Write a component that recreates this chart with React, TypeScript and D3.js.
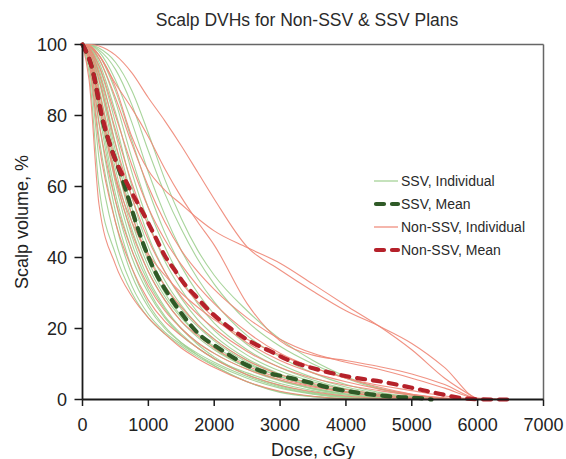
import React from "react";
import * as d3 from "d3";

// ---------- data ----------
const TITLE = "Scalp DVHs for Non-SSV & SSV Plans";
const X_LABEL = "Dose, cGy";
const Y_LABEL = "Scalp volume, %";
const X_TICKS = [0, 1000, 2000, 3000, 4000, 5000, 6000, 7000];
const Y_TICKS = [0, 20, 40, 60, 80, 100];

// common dose grid (cGy) for individual curves
const DOSE_GRID = [0, 100, 250, 500, 750, 1000, 1250, 1500, 1750, 2000, 2500, 3000, 3500, 4000, 4500, 5000, 5500, 6000, 6500];

// SSV individual curves (volume %, on DOSE_GRID)
const SSV_INDIVIDUAL = [
  [100, 92, 60, 41, 30, 23, 18.5, 15, 12, 9.5, 5, 2, 0.8, 0.2, 0],
  [100, 94, 68, 45, 32, 24, 19, 15.5, 12.5, 10, 6, 3.2, 1.5, 0.5, 0],
  [100, 96, 74, 50, 35, 26, 20, 16, 13, 10.5, 6.5, 3.5, 1.6, 0.6, 0],
  [100, 97, 78, 53, 37, 27, 20.5, 16, 12.5, 9.5, 5, 2.2, 0.8, 0.2, 0],
  [100, 97.5, 81, 56, 40, 30, 23, 18, 14.5, 11.5, 7, 4, 2, 0.8, 0.2, 0],
  [100, 98, 83, 58, 42, 31, 23.5, 18.5, 14.5, 11.5, 7.5, 4.5, 2.5, 1.2, 0.4, 0],
  [100, 98.5, 85, 61, 44, 33, 25.5, 20, 16, 13, 8.5, 5.2, 3, 1.5, 0.5, 0],
  [100, 99, 87, 63, 46, 34, 26, 20, 15.5, 12, 7, 3.8, 1.8, 0.7, 0.2, 0],
  [100, 99, 88, 65, 48, 36, 28, 22, 17.5, 14, 9, 5.5, 3.2, 1.6, 0.6, 0],
  [100, 99.3, 90, 68, 50, 37.5, 29, 23, 18.5, 15, 10, 6.5, 4, 2.2, 1, 0.3, 0],
  [100, 99.5, 91, 70, 52, 39, 30, 23.5, 18.5, 14.5, 9, 5.5, 3, 1.5, 0.5, 0],
  [100, 99.5, 92, 72, 54, 41, 32, 25.5, 20.5, 16.5, 10.5, 6.5, 3.8, 2, 0.8, 0.2, 0],
  [100, 99.6, 93, 75, 57, 43, 33.5, 26.5, 21, 17, 11, 7, 4.2, 2.3, 1, 0.3, 0],
  [100, 99.7, 94, 78, 60, 46, 36, 28.5, 22.5, 18, 11.5, 7.2, 4.2, 2.2, 0.9, 0.3, 0],
  [100, 99.8, 95, 81, 64, 50, 39, 31, 24.5, 19.5, 12.5, 8, 5, 2.8, 1.3, 0.4, 0],
  [100, 99.8, 96, 84, 68, 54, 43, 34, 27, 21.5, 14, 9, 5.5, 3, 1.4, 0.5, 0],
  [100, 99.9, 97, 87, 73, 59, 47, 37.5, 30, 24, 15.5, 10, 6.2, 3.5, 1.7, 0.6, 0],
  [100, 100, 98, 90, 78, 64, 52, 42, 34, 27.5, 18, 12, 7.5, 4.2, 2, 0.8, 0.2, 0],
  [100, 100, 98.5, 93, 83, 70, 58, 48, 39.5, 32.5, 22, 15, 10, 6, 3, 1.2, 0.3, 0],
  [100, 100, 99, 95, 87, 75, 62, 51, 42, 35, 25, 17, 11, 6.5, 3.2, 1.3, 0.3, 0],
];

// Non-SSV individual curves (volume %, on DOSE_GRID)
const NONSSV_INDIVIDUAL = [
  [100, 100, 99.6, 97, 92, 85, 78.5, 71.5, 64, 56.5, 43, 36.5, 30.5, 25, 20.7, 15.8, 9, 0.4, 0],
  [100, 99.8, 97, 88, 74, 64.5, 59, 55, 51, 47.5, 42.8, 38.4, 32.5, 26.5, 20.7, 14, 6, 0],
  [100, 99.5, 97, 89, 82, 74, 65, 57, 50, 43.5, 27, 16.5, 12.5, 11, 9.3, 7.2, 4.2, 0.3, 0],
  [100, 99.5, 96, 85, 72, 60, 50, 42, 36, 31, 23, 17, 13, 10.5, 8.5, 6, 3.2, 0.3, 0],
  [100, 99, 94, 80, 66, 54, 45, 38, 32, 27, 19, 13, 9, 6, 4, 2.5, 1, 0],
  [100, 99, 92, 76, 61, 49, 40, 33, 27.5, 23, 16, 11, 7.5, 5, 3, 1.5, 0.5, 0],
  [100, 98.5, 90, 72, 57, 45, 36, 29, 24, 20, 13.5, 9, 6, 4, 2.5, 1.2, 0.3, 0],
  [100, 98, 87, 67, 52, 40, 32, 26, 21, 17, 11, 7, 4.5, 2.8, 1.5, 0.6, 0],
  [100, 97, 83, 62, 47, 36, 28, 22, 18, 14.5, 9.5, 6, 3.8, 2.2, 1, 0.3, 0],
  [100, 96, 78, 56, 42, 32, 25, 20, 16, 13, 8.5, 5.5, 3.5, 2, 1, 0.3, 0],
  [100, 95, 72, 50, 37, 28, 22, 18, 14.5, 11.5, 7, 4, 2.2, 1, 0.3, 0],
  [100, 90, 55, 38, 29, 23, 18.5, 14.5, 11.5, 9, 5, 2.3, 0.9, 0.2, 0],
  [100, 97, 85, 63, 50, 41, 35, 30, 26, 22.5, 17, 12.5, 9, 6, 3.5, 1.5, 0.3, 0],
];

// mean curves
const SSV_MEAN_DOSE = [0, 150, 300, 450, 550, 700, 800, 900, 1000, 1130, 1270, 1430, 1580, 1780, 1990, 2190, 2440, 2750, 3050, 3400, 3800, 4260, 4720, 5170, 5300];
const SSV_MEAN_VOL = [100, 93, 79, 70, 65, 56.5, 50.5, 45, 40.2, 35, 30.6, 26.1, 22.4, 18.2, 15.4, 13, 10.2, 7.8, 6.5, 5.0, 3.1, 1.7, 0.8, 0.3, 0];
const NONSSV_MEAN_DOSE = [0, 150, 300, 450, 700, 950, 1100, 1250, 1400, 1550, 1700, 1900, 2250, 2600, 2850, 3100, 3600, 4050, 4550, 5000, 5400, 5800, 6200, 6450];
const NONSSV_MEAN_VOL = [100, 93, 79.5, 70, 60, 51.5, 46, 40.5, 36.5, 32.5, 29.5, 25.5, 20, 15.8, 13.6, 11.3, 8.3, 6.4, 5.0, 3.3, 1.7, 0.3, 0, 0];

const LEGEND_LABELS = ["SSV, Individual", "SSV, Mean", "Non-SSV, Individual", "Non-SSV, Mean"];

// ---------- styling ----------
const W = 566;
const H = 459;
const M = { left: 82.5, right: 543.5, top: 44.5, bottom: 399.5 };
const FONT = "'Liberation Sans', Arial, Helvetica, sans-serif";
const C_SSV_IND = "#9fcf90";
const C_SSV_MEAN = "#2f5a27";
const C_NON_IND = "#ee8676";
const C_NON_MEAN = "#b5212a";

type Pt = [number, number];

function gridCurve(vals: number[]): Pt[] {
  const pts: Pt[] = [];
  for (let i = 0; i < vals.length; i++) {
    pts.push([DOSE_GRID[i], vals[i]]);
    if (vals[i] <= 0) break;
  }
  return pts;
}

export default function App() {
  const x = d3.scaleLinear().domain([0, 7000]).range([M.left, M.right]);
  const y = d3.scaleLinear().domain([0, 100]).range([M.bottom, M.top]);
  const line = d3
    .line<Pt>()
    .x((d) => x(d[0]))
    .y((d) => y(d[1]))
    .curve(d3.curveMonotoneX);

  const ssvMean: Pt[] = SSV_MEAN_DOSE.map((d, i) => [d, SSV_MEAN_VOL[i]]);
  const nonMean: Pt[] = NONSSV_MEAN_DOSE.map((d, i) => [d, NONSSV_MEAN_VOL[i]]);

  const legendX0 = 374;
  const legendX1 = 398;
  const legendY = [181, 204, 227, 250];
  const legendStyles = [
    { stroke: C_SSV_IND, width: 1.2, dash: undefined as string | undefined },
    { stroke: C_SSV_MEAN, width: 4.2, dash: "8,8" },
    { stroke: C_NON_IND, width: 1.2, dash: undefined },
    { stroke: C_NON_MEAN, width: 4.2, dash: "8,8" },
  ];

  return (
    <svg
      width={W}
      height={H}
      style={{ position: "absolute", left: 0, top: 0, background: "#fff" }}
      fontFamily={FONT}
    >
      <rect x={0} y={0} width={W} height={H} fill="#fff" />
      <text x={307} y={26} textAnchor="middle" fontSize={17.5} fill="#2a2a2a">
        {TITLE}
      </text>

      {/* frame top/right */}
      <line x1={M.left} x2={M.right} y1={M.top} y2={M.top} stroke="#666" strokeWidth={1.5} />
      <line x1={M.right} x2={M.right} y1={M.top} y2={M.bottom} stroke="#666" strokeWidth={1.5} />

      {/* individual curves */}
      <g fill="none">
        {SSV_INDIVIDUAL.map((v, i) => (
          <path key={"g" + i} d={line(gridCurve(v)) || ""} stroke={C_SSV_IND} strokeWidth={1.1} opacity={0.9} />
        ))}
        {NONSSV_INDIVIDUAL.map((v, i) => (
          <path key={"r" + i} d={line(gridCurve(v)) || ""} stroke={C_NON_IND} strokeWidth={1.1} opacity={0.9} />
        ))}
      </g>

      {/* mean curves */}
      <path d={line(ssvMean) || ""} fill="none" stroke={C_SSV_MEAN} strokeWidth={4.2} strokeDasharray="8,8" strokeLinecap="round" />
      <path d={line(nonMean) || ""} fill="none" stroke={C_NON_MEAN} strokeWidth={4.2} strokeDasharray="8,8" strokeLinecap="round" />

      {/* axes */}
      <line x1={M.left} x2={M.right} y1={M.bottom} y2={M.bottom} stroke="#1a1a1a" strokeWidth={1.8} />
      <line x1={M.left} x2={M.left} y1={M.top} y2={M.bottom} stroke="#1a1a1a" strokeWidth={1.8} />
      {X_TICKS.map((t) => (
        <g key={"xt" + t}>
          <line x1={x(t)} x2={x(t)} y1={M.bottom} y2={M.bottom + 6.5} stroke="#1a1a1a" strokeWidth={1.5} />
          <text x={x(t)} y={431} textAnchor="middle" fontSize={18} fill="#222">
            {t}
          </text>
        </g>
      ))}
      {Y_TICKS.map((t) => (
        <g key={"yt" + t}>
          <line x1={M.left - 8} x2={M.left} y1={y(t)} y2={y(t)} stroke="#1a1a1a" strokeWidth={1.5} />
          <text x={67} y={y(t)} dy="0.36em" textAnchor="end" fontSize={18} fill="#222">
            {t}
          </text>
        </g>
      ))}
      <text x={313} y={456} textAnchor="middle" fontSize={18} fill="#222">
        {X_LABEL}
      </text>
      <text
        transform={`translate(28, ${(M.top + M.bottom) / 2}) rotate(-90)`}
        textAnchor="middle"
        fontSize={18}
        fill="#222"
      >
        {Y_LABEL}
      </text>

      {/* legend */}
      {LEGEND_LABELS.map((lab, i) => {
        const s = legendStyles[i];
        return (
          <g key={"lg" + i}>
            <line
              x1={legendX0 + (s.dash ? 2 : 0)}
              x2={legendX1}
              y1={legendY[i]}
              y2={legendY[i]}
              stroke={s.stroke}
              strokeWidth={s.width}
              strokeDasharray={s.dash}
              strokeLinecap={s.dash ? "round" : "butt"}
            />
            <text x={401} y={legendY[i]} dy="0.36em" fontSize={14} fill="#2a2a2a">
              {lab}
            </text>
          </g>
        );
      })}
    </svg>
  );
}
